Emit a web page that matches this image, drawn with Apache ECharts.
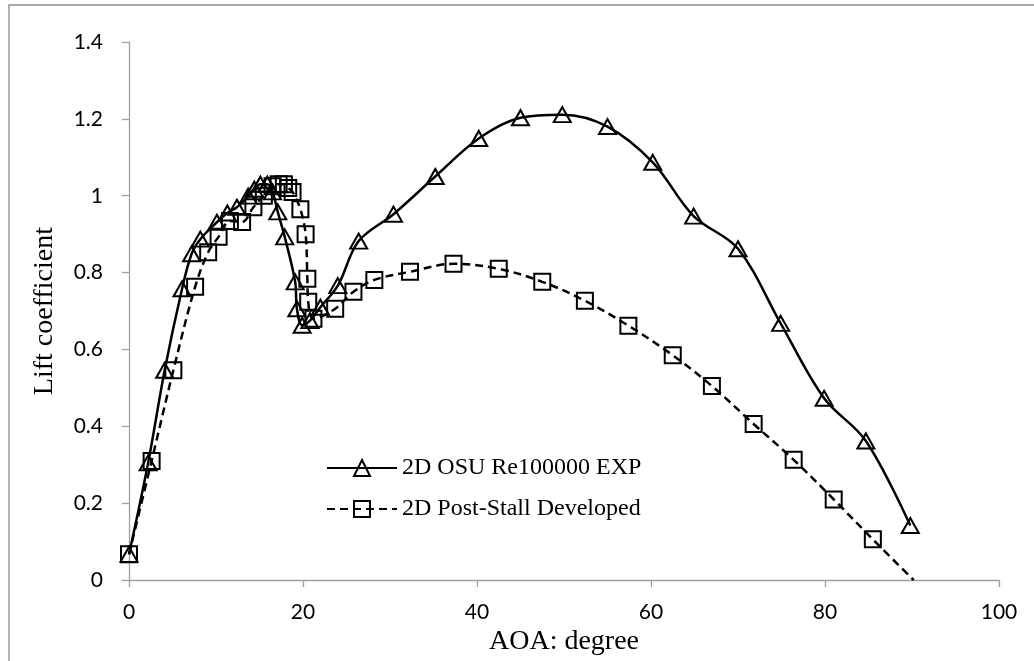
<!DOCTYPE html>
<html>
<head>
<meta charset="utf-8">
<script src="https://cdn.jsdelivr.net/npm/echarts@6/dist/echarts.min.js"></script>
<style>
  html, body { margin: 0; padding: 0; background: #fff; }
  #chart { width: 1034px; height: 661px; }
</style>
</head>
<body>
<div id="chart"></div>
<script>
// Lift coefficient vs. angle of attack
const seriesNames = ['2D OSU Re100000 EXP', '2D Post-Stall Developed'];

// 2D OSU Re100000 EXP (triangles, solid)
const osuAoa = [0, 2.2, 4.1, 6.1, 7.2, 8.2, 10.1, 11.3, 12.4, 13.7, 14.4, 15.1, 15.9, 16.5, 17.1, 17.9, 19.1, 19.3, 19.9, 20.8, 22.0, 24.0, 26.4, 30.4, 35.2, 40.2, 45.0, 49.8, 55.0, 60.2, 64.9, 70.0, 74.9, 79.9, 84.7, 89.8];
const osuCl  = [0.067, 0.305, 0.546, 0.758, 0.849, 0.887, 0.931, 0.955, 0.97, 0.999, 1.017, 1.03, 1.03, 1.01, 0.958, 0.893, 0.776, 0.706, 0.663, 0.675, 0.71, 0.766, 0.882, 0.952, 1.05, 1.149, 1.203, 1.211, 1.18, 1.087, 0.947, 0.862, 0.668, 0.473, 0.362, 0.142];

// 2D Post-Stall Developed (squares, dashed); the last point closes the line on the axis
const psAoa = [0, 2.6, 5.1, 7.6, 9.1, 10.3, 11.6, 13.0, 14.3, 15.5, 16.5, 17.2, 17.8, 18.3, 18.8, 19.7, 20.3, 20.5, 20.6, 21.2, 23.7, 25.8, 28.2, 32.3, 37.3, 42.5, 47.5, 52.4, 57.4, 62.5, 67.0, 71.8, 76.4, 81.0, 85.5, 90.2];
const psCl  = [0.067, 0.31, 0.546, 0.763, 0.853, 0.893, 0.934, 0.932, 0.97, 1.0, 1.025, 1.03, 1.03, 1.02, 1.01, 0.965, 0.9, 0.784, 0.724, 0.68, 0.706, 0.75, 0.781, 0.802, 0.823, 0.81, 0.776, 0.727, 0.662, 0.585, 0.505, 0.406, 0.313, 0.21, 0.106, 0];

const xTicks = ['0', '20', '40', '60', '80', '100'];
const yTicks = ['0', '0.2', '0.4', '0.6', '0.8', '1', '1.2', '1.4'];

const axisGray = '#a0a0a0';
const tickFont = { fontFamily: 'Lato', fontSize: 21, color: '#000' };
const serifFont = 'Liberation Serif';

const osuData = osuAoa.map((a, i) => [a, osuCl[i]]);
const psData = psAoa.map((a, i) => {
  const p = { value: [a, psCl[i]] };
  if (i === psAoa.length - 1) p.symbol = 'none';
  return p;
});

const legendBase = {
  left: 326, padding: 0,
  itemWidth: 70, itemHeight: 20, itemGap: 6,
  textStyle: { fontFamily: serifFont, fontSize: 24, color: '#000' }
};

const chart = echarts.init(document.getElementById('chart'), null, { renderer: 'canvas' });
chart.setOption({
  backgroundColor: '#fff',
  animation: false,
  graphic: [{
    type: 'rect',
    shape: { x: 9, y: 5, width: 1100, height: 700 },
    style: { fill: 'none', stroke: '#8c8c8c', lineWidth: 1.3 },
    silent: true
  }],
  grid: { left: 129, top: 42, right: 35, bottom: 78, containLabel: false },
  legend: [
    Object.assign({ data: [seriesNames[0]], top: 456 }, legendBase),
    Object.assign({ data: [seriesNames[1]], top: 497 }, legendBase)
  ],
  xAxis: {
    type: 'value', min: 0, max: 100, interval: 20,
    name: 'AOA: degree', nameLocation: 'middle', nameGap: 28,
    nameTextStyle: { fontFamily: serifFont, fontSize: 28, color: '#000' },
    axisLine: { show: true, lineStyle: { color: axisGray, width: 1.3 } },
    axisTick: { show: true, length: 7, lineStyle: { color: axisGray, width: 1.3 } },
    axisLabel: Object.assign({ margin: 22, formatter: v => xTicks[Math.round(v / 20)] }, tickFont),
    splitLine: { show: false }
  },
  yAxis: {
    type: 'value', min: 0, max: 1.4, interval: 0.2,
    name: 'Lift coefficient', nameLocation: 'middle', nameGap: 70, nameRotate: 90,
    nameTextStyle: { fontFamily: serifFont, fontSize: 28, color: '#000' },
    axisLine: { show: true, lineStyle: { color: axisGray, width: 1.3 } },
    axisTick: { show: true, length: 7, lineStyle: { color: axisGray, width: 1.3 } },
    axisLabel: Object.assign({ margin: 26, formatter: v => yTicks[Math.round(v / 0.2)] }, tickFont),
    splitLine: { show: false }
  },
  series: [
    {
      name: seriesNames[0],
      type: 'line',
      data: osuData,
      smooth: 0.35,
      symbol: 'triangle',
      symbolSize: [17, 15],
      showAllSymbol: true,
      lineStyle: { color: '#000', width: 2.5, type: 'solid' },
      itemStyle: { color: 'rgba(0,0,0,0)', borderColor: '#000', borderWidth: 2 },
      z: 3
    },
    {
      name: seriesNames[1],
      type: 'line',
      data: psData,
      smooth: 0.35,
      symbol: 'rect',
      symbolSize: 16,
      showAllSymbol: true,
      lineStyle: { color: '#000', width: 2.5, type: [8, 5] },
      itemStyle: { color: 'rgba(0,0,0,0)', borderColor: '#000', borderWidth: 2 },
      z: 2
    }
  ]
});
</script>
</body>
</html>
